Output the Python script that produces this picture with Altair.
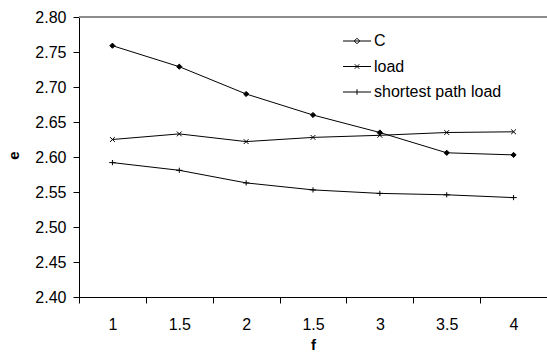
import altair as alt
import pandas as pd

# ---- data ----
f_labels = ["1", "1.5", "2", "1.5", "3", "3.5", "4"]
series_names = ["C", "load", "shortest path load"]
c_values = [2.759, 2.729, 2.690, 2.660, 2.635, 2.606, 2.603]
load_values = [2.625, 2.633, 2.622, 2.628, 2.631, 2.635, 2.636]
spl_values = [2.592, 2.581, 2.563, 2.553, 2.548, 2.546, 2.542]
y_ticks = [2.40, 2.45, 2.50, 2.55, 2.60, 2.65, 2.70, 2.75, 2.80]

rows = []
for name, vals in zip(series_names, [c_values, load_values, spl_values]):
    for i, (lab, v) in enumerate(zip(f_labels, vals)):
        rows.append({"series": name, "idx": i + 1, "f": lab, "e": v})
df = pd.DataFrame(rows)

W, H = 468, 280
half_band = W / len(f_labels) / 2
FONT = "Liberation Sans"

label_expr = "[" + ",".join("'%s'" % l for l in f_labels) + "][datum.value - 1]"

x_axis = alt.Axis(
    values=list(range(1, len(f_labels) + 1)),
    labelExpr=label_expr,
    title="f",
    ticks=True,
    tickOffset=-half_band,
    labelOffset=half_band,
    tickSize=6,
    labelPadding=13,
    labelOverlap=False,
    titleY=40,
)
y_axis = alt.Axis(
    values=y_ticks,
    format=".2f",
    title="e",
    ticks=True,
    tickSize=6,
    labelPadding=7,
    labelOverlap=False,
    titleX=-58,
    titleY=138,
)
x_scale = alt.Scale(domain=[0.5, len(f_labels) + 0.5], nice=False, zero=False)
y_scale = alt.Scale(domain=[2.40, 2.80], nice=False, zero=False)

x_enc = alt.X("idx:Q", scale=x_scale, axis=x_axis)
y_enc = alt.Y("e:Q", scale=y_scale, axis=y_axis)

marker_paths = [
    "M0,-0.65L0.65,0L0,0.65L-0.65,0Z",
    "M-0.6,-0.6L0.6,0.6M-0.6,0.6L0.6,-0.6",
    "M-0.8,0L0.8,0M0,-0.65L0,0.65",
]
legend_paths = [
    "M-2.8,0L2.8,0M0,-0.55L0.55,0L0,0.55L-0.55,0Z",
    "M-2.8,0L2.8,0M-0.45,-0.45L0.45,0.45M-0.45,0.45L0.45,-0.45",
    "M-2.8,0L2.8,0M0,-0.55L0,0.55",
]

base = alt.Chart(df)

lines = base.mark_line(color="black", strokeWidth=1).encode(
    x=x_enc, y=y_enc, detail="series:N", order="idx:Q"
)

points = base.mark_point(
    filled=True, fill="black", stroke="black", strokeWidth=1, size=64, opacity=1
).encode(
    x=x_enc,
    y=y_enc,
    shape=alt.Shape(
        "series:N",
        scale=alt.Scale(domain=series_names, range=marker_paths),
        legend=None,
    ),
)

legend_layer = base.mark_point(opacity=0, size=1).encode(
    x=x_enc,
    y=y_enc,
    shape=alt.Shape(
        "series:N",
        scale=alt.Scale(domain=series_names, range=legend_paths),
        legend=alt.Legend(
            title=None,
            orient="none",
            legendX=270,
            legendY=16,
            symbolSize=100,
            symbolStrokeColor="black",
            symbolFillColor="black",
            symbolStrokeWidth=1,
            symbolOpacity=1,
            labelFont=FONT,
            labelFontSize=16,
            labelColor="black",
            labelOffset=9,
            rowPadding=9.5,
            padding=0,
        ),
    ),
)

top_line = base.mark_rule(color="#8c8c8c", strokeWidth=1).encode(
    y=alt.YDatum(2.80, axis=y_axis, scale=y_scale)
)

chart = (
    alt.layer(top_line, lines, points, legend_layer)
    .resolve_scale(shape="independent")
    .properties(
        width=W,
        height=H,
        autosize=alt.AutoSizeParams(type="none"),
        padding={"left": 79, "top": 17, "right": 0, "bottom": 55},
        background="white",
    )
    .configure_axis(
        labelFont=FONT,
        labelFontSize=16,
        labelColor="black",
        titleFont=FONT,
        titleFontSize=15,
        titleFontWeight="bold",
        titleColor="black",
        domainColor="black",
        domainWidth=1,
        ticks=True,
        tickColor="black",
        tickWidth=1,
        tickSize=6,
        labelOverlap=False,
        grid=False,
    )
    .configure_view(stroke=None)
)

chart.save("out.html", embed_options={"renderer": "svg", "actions": False})
